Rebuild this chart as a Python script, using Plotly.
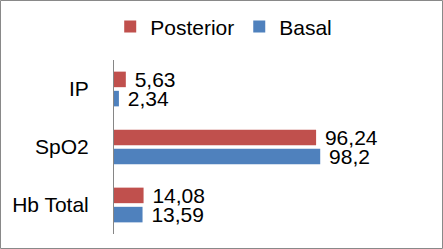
import plotly.graph_objects as go

categories = ["IP", "SpO2", "Hb Total"]
posterior = [5.63, 96.24, 14.08]
basal = [2.34, 98.2, 13.59]
series_names = ["Posterior", "Basal"]
colors = ["#C0504D", "#4F81BD"]

W, H = 443, 249
ML, MR, MT, MB = 114, 14, 60, 15
FONT = "Liberation Sans"

fig = go.Figure()
for name, vals, col in zip(series_names, [posterior, basal], colors):
    fig.add_trace(go.Bar(
        name=name, y=categories, x=vals, orientation="h",
        marker=dict(color=col, line=dict(width=0)),
        texttemplate="\u00a0%{x:.2~f}", textposition="outside",
        textfont=dict(color="black", size=21, family=FONT),
        constraintext="none", cliponaxis=False,
    ))

pw = W - ML - MR
ph = H - MT - MB
fig.add_shape(type="rect", xref="paper", yref="paper",
              x0=-(ML - 0.5) / pw, x1=1 + (MR - 0.5) / pw,
              y0=-(MB - 0.5) / ph, y1=1 + (MT - 0.5) / ph,
              line=dict(color="#898989", width=1), layer="below")

fig.update_layout(
    width=W, height=H,
    margin=dict(l=ML, r=MR, t=MT, b=MB, pad=0, autoexpand=False),
    paper_bgcolor="white", plot_bgcolor="white",
    separators=",.",
    barmode="group", bargap=0.338, bargroupgap=0.19,
    font=dict(family=FONT, size=21, color="black"),
    showlegend=True,
    legend=dict(orientation="h", xref="container", yref="container",
                x=0.505, xanchor="center", y=0.892, yanchor="middle",
                font=dict(size=21, family=FONT, color="black"),
                bgcolor="rgba(0,0,0,0)"),
    xaxis=dict(range=[0, 150], visible=False, showgrid=False, zeroline=False,
               automargin=False),
    yaxis=dict(autorange="reversed", showline=True, linecolor="#868686", linewidth=1,
               ticks="", showgrid=False, zeroline=False, ticklabelstandoff=20,
               automargin=False,
               tickfont=dict(size=21, family=FONT, color="black")),
)

fig.write_html("out.html", config={"displayModeBar": False},
               post_script="document.body.style.margin='0';document.body.style.overflow='hidden';")
